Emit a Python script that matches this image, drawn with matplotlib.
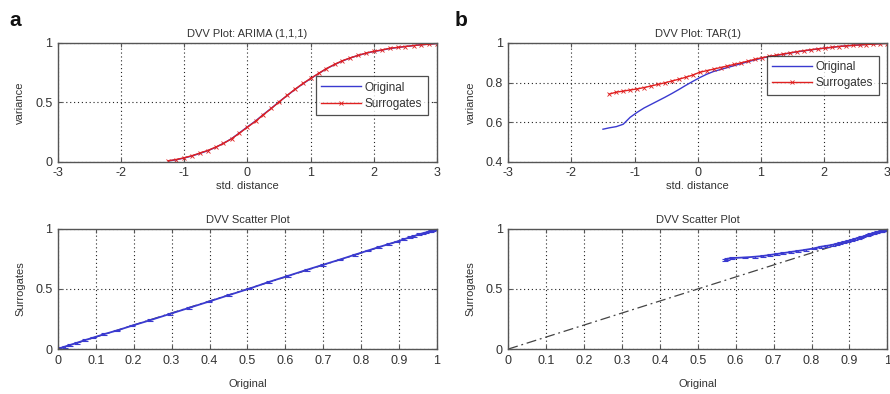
import matplotlib
matplotlib.use("Agg")
import matplotlib.pyplot as plt

plt.rcParams["font.family"] = ["Liberation Sans", "DejaVu Sans"]

# ---- Panel a: ARIMA(1,1,1) DVV curves (common distance grid) ----
dist_a = [-1.25, -1.13, -1.0, -0.88, -0.75, -0.63, -0.5, -0.38, -0.25, -0.13,
          0.0, 0.13, 0.25, 0.38, 0.5, 0.63, 0.75, 0.88, 1.0, 1.13,
          1.25, 1.38, 1.5, 1.63, 1.75, 1.88, 2.0, 2.13, 2.25, 2.38,
          2.5, 2.63, 2.75, 2.88, 3.0]
orig_a = [0.008, 0.018, 0.033, 0.05, 0.072, 0.094, 0.123, 0.156, 0.196, 0.243,
          0.295, 0.345, 0.398, 0.452, 0.505, 0.558, 0.608, 0.657, 0.700, 0.744,
          0.783, 0.818, 0.848, 0.874, 0.895, 0.914, 0.928, 0.940, 0.953, 0.962,
          0.970, 0.978, 0.985, 0.990, 0.996]
surr_a = [0.010, 0.020, 0.035, 0.052, 0.075, 0.096, 0.125, 0.155, 0.195, 0.240,
          0.292, 0.342, 0.395, 0.450, 0.503, 0.560, 0.610, 0.660, 0.702, 0.745,
          0.785, 0.820, 0.850, 0.875, 0.895, 0.915, 0.930, 0.941, 0.955, 0.963,
          0.970, 0.978, 0.985, 0.990, 0.995]

# ---- Panel b: TAR(1) DVV curves ----
dist_b_orig = [-1.5, -1.4, -1.29, -1.18, -1.07, -0.96, -0.85, -0.74, -0.63, -0.52,
               -0.41, -0.3, -0.19, -0.08, 0.03, 0.14, 0.25, 0.36, 0.47, 0.58,
               0.69, 0.8, 0.91, 1.02, 1.13, 1.24, 1.35, 1.46, 1.57, 1.68,
               1.79, 1.9, 2.01, 2.12, 2.23, 2.34, 2.45, 2.56, 2.67, 2.78,
               2.89, 3.0]
orig_b = [0.565, 0.572, 0.578, 0.590, 0.625, 0.650, 0.672, 0.690, 0.708, 0.726,
          0.745, 0.765, 0.786, 0.806, 0.825, 0.842, 0.856, 0.866, 0.876, 0.886,
          0.896, 0.906, 0.915, 0.924, 0.931, 0.937, 0.943, 0.949, 0.955, 0.960,
          0.965, 0.970, 0.974, 0.978, 0.982, 0.985, 0.988, 0.990, 0.993, 0.995,
          0.997, 0.999]
dist_b_surr = dist_b_orig[1:]
surr_b = [0.742, 0.752, 0.757, 0.763, 0.768, 0.775, 0.783, 0.791, 0.799,
          0.808, 0.817, 0.827, 0.838, 0.852, 0.860, 0.868, 0.876, 0.884, 0.892,
          0.900, 0.909, 0.918, 0.926, 0.932, 0.938, 0.944, 0.950, 0.956, 0.961,
          0.966, 0.970, 0.974, 0.978, 0.982, 0.985, 0.988, 0.990, 0.992, 0.994,
          0.996, 0.997]

surr_spread = 0.007

dist_ticks = [-3, -2, -1, 0, 1, 2, 3]
var_ticks_a = [0, 0.5, 1]
var_ticks_b = [0.4, 0.6, 0.8, 1]
scatter_xticks = [0, 0.1, 0.2, 0.3, 0.4, 0.5, 0.6, 0.7, 0.8, 0.9, 1]
scatter_yticks = [0, 0.5, 1]

TXT = "#333333"
BLUE = "#3a3ad0"
RED = "#e02020"

fig = plt.figure(figsize=(8.9, 3.94), dpi=100)

W = 0.426
left_a, left_b = 0.065, 0.571
top_y, top_h = 0.589, 0.302
bot_y, bot_h = 0.114, 0.305


def style(ax):
    ax.grid(True, linestyle=(0, (1, 2.5)), color="#222222", linewidth=0.8)
    ax.tick_params(direction="in", top=True, right=True, length=3,
                   labelsize=9, colors="#555555", labelcolor=TXT, pad=4)
    for s in ax.spines.values():
        s.set_color("#555555")
        s.set_linewidth(1.0)


def dvv_panel(ax, xo, yo, xs, ys, title, yticks, ylim, legend_anchor):
    ax.plot(xo, yo, color=BLUE, linewidth=1.0, label="Original")
    ax.plot(xs, ys, color=RED, linewidth=1.0, marker="x", markersize=3,
            markeredgewidth=0.6, label="Surrogates")
    ax.set_xlim(-3, 3)
    ax.set_ylim(*ylim)
    ax.set_xticks(dist_ticks)
    ax.set_xticklabels([str(t) for t in dist_ticks])
    ax.set_yticks(yticks)
    ax.set_yticklabels([f"{t:g}" for t in yticks])
    ax.set_title(title, fontsize=8, color=TXT, pad=4)
    ax.set_xlabel("std. distance", fontsize=8, color=TXT, labelpad=1)
    ax.set_ylabel("variance", fontsize=8, color=TXT, labelpad=7)
    leg = ax.legend(loc="upper right", bbox_to_anchor=legend_anchor,
                    fontsize=8.5, frameon=True, fancybox=False,
                    handlelength=3.4, borderpad=0.45, labelspacing=0.35,
                    handletextpad=0.3, borderaxespad=0)
    leg.get_frame().set_edgecolor("#222222")
    leg.get_frame().set_linewidth(0.9)
    for t in leg.get_texts():
        t.set_color(TXT)
    style(ax)


def scatter_panel(ax, xo, ys):
    ax.plot([0, 1], [0, 1], color="#444444", linewidth=0.9,
            linestyle=(0, (8, 3, 1.5, 3)))
    ax.errorbar(xo, ys, yerr=surr_spread, color=BLUE, linewidth=1.3,
                elinewidth=0.8, capsize=2, capthick=0.8)
    ax.set_xlim(0, 1)
    ax.set_ylim(0, 1)
    ax.set_xticks(scatter_xticks)
    ax.set_xticklabels([f"{t:g}" for t in scatter_xticks])
    ax.set_yticks(scatter_yticks)
    ax.set_yticklabels([f"{t:g}" for t in scatter_yticks])
    ax.set_title("DVV Scatter Plot", fontsize=8, color=TXT, pad=4)
    ax.set_xlabel("Original", fontsize=8, color=TXT, labelpad=9)
    ax.set_ylabel("Surrogates", fontsize=8, color=TXT, labelpad=7)
    style(ax)


ax1 = fig.add_axes([left_a, top_y, W, top_h])
dvv_panel(ax1, dist_a, orig_a, dist_a, surr_a, "DVV Plot: ARIMA (1,1,1)",
          var_ticks_a, (0, 1), (0.975, 0.72))

ax2 = fig.add_axes([left_b, top_y, W, top_h])
dvv_panel(ax2, dist_b_orig, orig_b, dist_b_surr, surr_b, "DVV Plot: TAR(1)",
          var_ticks_b, (0.4, 1), (0.977, 0.89))

ax3 = fig.add_axes([left_a, bot_y, W, bot_h])
scatter_panel(ax3, orig_a, surr_a)

ax4 = fig.add_axes([left_b, bot_y, W, bot_h])
scatter_panel(ax4, orig_b[1:], surr_b)

fig.text(0.011, 0.948, "a", fontsize=15, fontweight="bold", color="#111111",
         va="center", ha="left")
fig.text(0.511, 0.948, "b", fontsize=15, fontweight="bold", color="#111111",
         va="center", ha="left")

fig.savefig("out.png", dpi=100, facecolor="white")
